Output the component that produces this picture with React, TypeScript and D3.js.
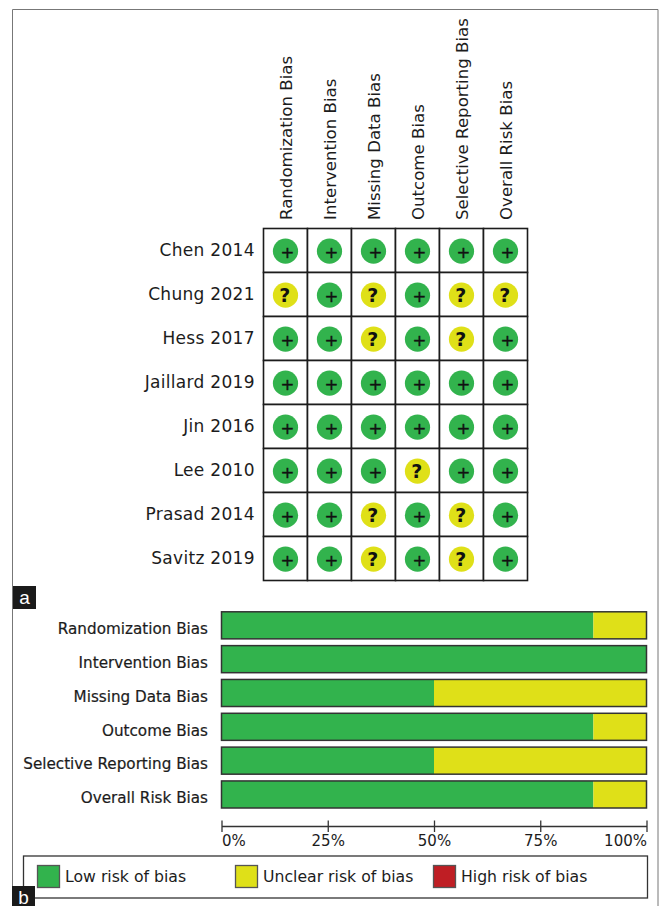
import React, { useEffect, useRef } from 'react';
import * as d3 from 'd3';

const studies = ['Chen 2014', 'Chung 2021', 'Hess 2017', 'Jaillard 2019', 'Jin 2016', 'Lee 2010', 'Prasad 2014', 'Savitz 2019'];
const domains = ['Randomization Bias', 'Intervention Bias', 'Missing Data Bias', 'Outcome Bias', 'Selective Reporting Bias', 'Overall Risk Bias'];

// one string per study, one character per domain: + low, ? unclear
const judgements = ['++++++', '?+?+??', '++?+?+', '++++++', '++++++', '+++?++', '++?+?+', '++?+?+'];

const lowRisk = [87.5, 100, 50, 87.5, 50, 87.5];
const unclearRisk = [12.5, 0, 50, 12.5, 50, 12.5];
const highRisk = [0, 0, 0, 0, 0, 0];

const percentTicks = [0, 25, 50, 75, 100];
const legendLabels = ['Low risk of bias', 'Unclear risk of bias', 'High risk of bias'];

const GREEN = '#32b34d';
const YELLOW = '#dfe018';
const RED = '#bf1e24';
const INK = '#1c1c1c';
const FONT = '"DejaVu Sans", sans-serif';

const App: React.FC = () => {
  const chartRef = useRef<SVGSVGElement | null>(null);

  useEffect(() => {
    const svg = d3.select(chartRef.current);
    svg.selectAll('*').remove();
    svg.attr('width', 659).attr('height', 906).style('font-family', FONT);

    svg.append('rect').attr('width', 659).attr('height', 906).attr('fill', 'white');

    // outer figure frame, runs off the bottom of the picture
    svg.append('path')
      .attr('d', 'M12.5,906V9.5H658V906')
      .attr('fill', 'none')
      .attr('stroke', '#777')
      .attr('stroke-width', 1);

    // panel a: traffic light grid
    const x = d3.scaleBand<string>().domain(domains).range([263.5, 527.5]);
    const y = d3.scaleBand<string>().domain(studies).range([228.5, 580.5]);

    const grid = svg.append('g');
    studies.forEach((study, r) => {
      domains.forEach((domain, c) => {
        grid.append('rect')
          .attr('x', x(domain)!)
          .attr('y', y(study)!)
          .attr('width', x.bandwidth())
          .attr('height', y.bandwidth())
          .attr('fill', 'white')
          .attr('stroke', INK)
          .attr('stroke-width', 1.6);

        const mark = judgements[r][c];
        const cx = x(domain)! + x.bandwidth() / 2;
        const cy = y(study)! + y.bandwidth() / 2;
        const isLow = mark === '+';
        grid.append('circle')
          .attr('cx', cx)
          .attr('cy', cy + 0.7)
          .attr('r', 12.6)
          .attr('fill', isLow ? GREEN : YELLOW);
        grid.append('text')
          .attr('x', isLow ? cx + 1.8 : cx - 0.8)
          .attr('y', isLow ? cy + 7 : cy + 7.8)
          .attr('text-anchor', 'middle')
          .attr('font-size', isLow ? 16.5 : 19)
          .attr('font-weight', isLow ? 'normal' : 'bold')
          .attr('fill', '#111')
          .attr('stroke', '#111')
          .attr('stroke-width', isLow ? 0.4 : 0)
          .text(mark);
      });
    });

    svg.append('g').selectAll('text')
      .data(studies)
      .enter().append('text')
      .attr('x', 254.8)
      .attr('y', d => y(d)! + y.bandwidth() / 2 + 5.5)
      .attr('text-anchor', 'end')
      .attr('font-size', 17)
      .attr('letter-spacing', 0.3)
      .attr('fill', INK)
      .text(d => d);

    svg.append('g').selectAll('text')
      .data(domains)
      .enter().append('text')
      .attr('transform', d => `translate(${x(d)! + x.bandwidth() / 2 + 6.8},220) rotate(-90)`)
      .attr('font-size', 16.6)
      .attr('fill', INK)
      .text(d => d);

    // panel b: summary bars
    const pct = d3.scaleLinear().domain([0, 100]).range([221.5, 646.5]);
    const rowY = d3.scaleBand<string>().domain(domains).range([611.8, 808]).paddingInner(0.2).paddingOuter(0);

    domains.forEach((domain, i) => {
      const row = svg.append('g');
      const segments = [
        { from: 0, to: lowRisk[i], fill: GREEN },
        { from: lowRisk[i], to: lowRisk[i] + unclearRisk[i], fill: YELLOW },
        { from: lowRisk[i] + unclearRisk[i], to: lowRisk[i] + unclearRisk[i] + highRisk[i], fill: RED },
      ];
      segments.filter(s => s.to > s.from).forEach(s => {
        row.append('rect')
          .attr('x', pct(s.from))
          .attr('y', rowY(domain)!)
          .attr('width', pct(s.to) - pct(s.from))
          .attr('height', rowY.bandwidth())
          .attr('fill', s.fill);
      });
      row.append('rect')
        .attr('x', pct(0))
        .attr('y', rowY(domain)!)
        .attr('width', pct(100) - pct(0))
        .attr('height', rowY.bandwidth())
        .attr('fill', 'none')
        .attr('stroke', '#333')
        .attr('stroke-width', 1.5);
      // labels sit a little below the middle of the bar
      row.append('text')
        .attr('x', 208)
        .attr('y', rowY(domain)! + rowY.bandwidth() / 2 + 8.8)
        .attr('text-anchor', 'end')
        .attr('font-size', 15.2)
        .attr('fill', INK)
        .attr('stroke', INK)
        .attr('stroke-width', 0.2)
        .text(domain);
    });

    const axis = svg.append('g')
      .attr('transform', 'translate(0,826)')
      .call(d3.axisBottom(pct).tickValues(percentTicks).tickFormat(d => `${d}%`).tickSize(6).tickSizeOuter(0).tickPadding(3));
    axis.select('.domain').attr('stroke', '#333').attr('stroke-width', 1.3);
    axis.selectAll('.tick line').attr('y1', -5.5).attr('stroke', '#333').attr('stroke-width', 1.3);
    axis.selectAll<SVGTextElement, number>('.tick text')
      .attr('font-family', FONT)
      .attr('font-size', 15)
      .attr('fill', INK)
      .attr('text-anchor', d => (d === 0 ? 'start' : d === 100 ? 'end' : 'middle'));

    // legend
    svg.append('rect')
      .attr('x', 23.5)
      .attr('y', 856)
      .attr('width', 624)
      .attr('height', 42)
      .attr('fill', 'white')
      .attr('stroke', '#333')
      .attr('stroke-width', 1.3);

    const legendX = d3.scaleOrdinal<string, number>().domain(legendLabels).range([37.5, 235.5, 433.5]);
    const legendFill = d3.scaleOrdinal<string, string>().domain(legendLabels).range([GREEN, YELLOW, RED]);
    legendLabels.forEach(label => {
      svg.append('rect')
        .attr('x', legendX(label))
        .attr('y', 865.5)
        .attr('width', 22)
        .attr('height', 22)
        .attr('fill', legendFill(label))
        .attr('stroke', '#555')
        .attr('stroke-width', 1.3);
      svg.append('text')
        .attr('x', legendX(label) + 27.5)
        .attr('y', 882)
        .attr('font-size', 15.7)
        .attr('fill', INK)
        .text(label);
    });

    // panel letters
    const letters: [string, number, number, number, number][] = [
      ['a', 13, 586, 23, 23],
      ['b', 12, 886, 23, 20],
    ];
    letters.forEach(([letter, bx, by, bw, bh]) => {
      svg.append('rect').attr('x', bx).attr('y', by).attr('width', bw).attr('height', bh).attr('fill', '#1a1a1a');
      svg.append('text')
        .attr('x', bx + bw / 2)
        .attr('y', by + 18)
        .attr('text-anchor', 'middle')
        .attr('font-family', '"Liberation Sans", sans-serif')
        .attr('font-size', 19)
        .attr('fill', 'white')
        .text(letter);
    });
  }, []);

  return <svg ref={chartRef} style={{ position: 'absolute', left: 0, top: 0, display: 'block' }}></svg>;
};

export default App;
